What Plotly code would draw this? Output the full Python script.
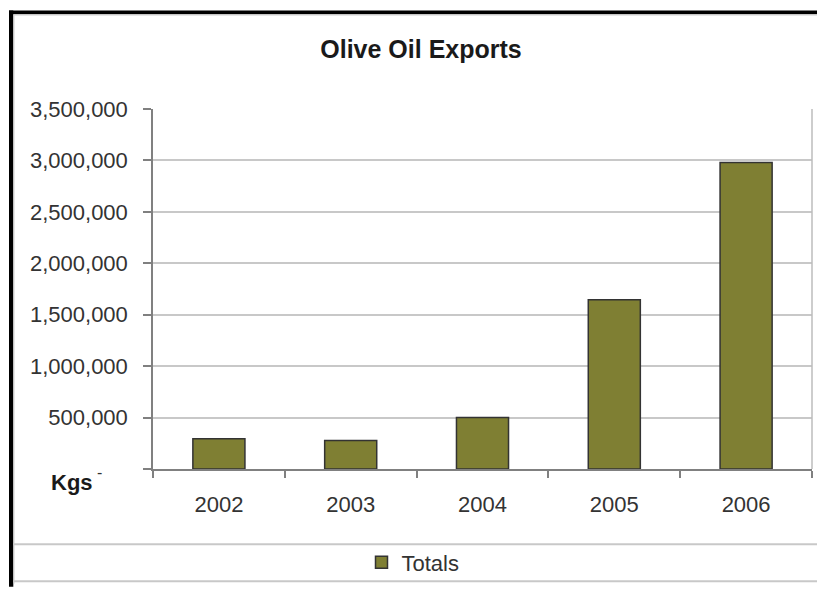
import plotly.graph_objects as go

years = ["2002", "2003", "2004", "2005", "2006"]
totals = [295000, 278000, 500000, 1645000, 2980000]
y_tickvals = [0, 500000, 1000000, 1500000, 2000000, 2500000, 3000000, 3500000]
y_ticktext = ["", "500,000", "1,000,000", "1,500,000", "2,000,000",
              "2,500,000", "3,000,000", "3,500,000"]

W, H = 817, 589
ML, MR, MT, MB = 153, 5, 109, 116
PW = W - ML - MR
PH = H - MT - MB


def px(x):
    return (x - ML) / PW


def py(y):
    return (H - MB - y) / PH


FONT = "Liberation Sans, Arial, sans-serif"

fig = go.Figure()
fig.add_trace(go.Bar(
    x=years, y=totals, name="Totals",
    marker=dict(color="#7f7f33", line=dict(color="#333333", width=1.5)),
))

shapes = [
    # black frame left and top
    dict(type="rect", xref="paper", yref="paper", x0=px(9), x1=px(13.3), y0=py(592), y1=py(9.3),
         fillcolor="black", line=dict(width=0), layer="above"),
    dict(type="rect", xref="paper", yref="paper", x0=px(9), x1=px(820), y0=py(13.3), y1=py(9.3),
         fillcolor="black", line=dict(width=0), layer="above"),
    # thin grey inner edges
    dict(type="line", xref="paper", yref="paper", x0=px(14), x1=px(14), y0=py(589), y1=py(13.5),
         line=dict(color="#d0d0d0", width=1)),
    dict(type="line", xref="paper", yref="paper", x0=px(13.5), x1=px(817), y0=py(14), y1=py(14),
         line=dict(color="#d0d0d0", width=1)),
    # legend separator lines
    dict(type="line", xref="paper", yref="paper", x0=px(13), x1=px(817), y0=py(549), y1=py(549),
         line=dict(color="#c8c8c8", width=2)),
    dict(type="line", xref="paper", yref="paper", x0=px(13), x1=px(817), y0=py(586.5), y1=py(586.5),
         line=dict(color="#c8c8c8", width=2)),
    # right border of the plot area
    dict(type="line", xref="paper", yref="paper", x0=1, x1=1, y0=0, y1=1,
         line=dict(color="#bdbdbd", width=1.5)),
]

fig.update_layout(
    width=W, height=H,
    margin=dict(l=ML, r=MR, t=MT, b=MB),
    paper_bgcolor="white", plot_bgcolor="white",
    font=dict(family=FONT, size=22, color="#333333"),
    title=dict(text="Olive Oil Exports", x=px(421), xref="paper", xanchor="center",
               y=1 - 49 / H, yref="container", yanchor="middle",
               font=dict(family=FONT, size=25, color="#1a1a1a", weight="bold")),
    bargap=0.605,
    showlegend=True,
    legend=dict(orientation="h", x=px(413), xanchor="center", y=py(567.5), yanchor="middle",
                font=dict(family=FONT, size=22, color="#333333"), bgcolor="rgba(0,0,0,0)"),
    xaxis=dict(type="category", tickson="boundaries", ticks="outside", ticklen=7,
               tickcolor="#808080", tickwidth=1.5, showline=True, linecolor="#808080",
               linewidth=1.5, showgrid=False, ticklabelstandoff=15,
               tickfont=dict(family=FONT, size=22, color="#333333")),
    yaxis=dict(range=[0, 3500000], tickvals=y_tickvals, ticktext=y_ticktext,
               ticks="outside", ticklen=8, tickcolor="#808080", tickwidth=1.5,
               showline=True, linecolor="#808080", linewidth=1.5,
               showgrid=True, gridcolor="#c8c8c8", gridwidth=1.5, zeroline=False,
               ticklabelstandoff=11,
               tickfont=dict(family=FONT, size=22, color="#333333")),
    shapes=shapes,
    annotations=[
        dict(text="<b>Kgs</b>", xref="paper", yref="paper", x=px(72), y=py(487),
             xanchor="center", yanchor="middle", showarrow=False,
             font=dict(family=FONT, size=22, color="#1a1a1a")),
        dict(text="-", xref="paper", yref="y", x=px(99), y=0, yshift=-3,
             xanchor="center", yanchor="middle", showarrow=False,
             font=dict(family=FONT, size=16, color="#333333")),
    ],
)

post = (
    "document.documentElement.style.margin='0';"
    "document.documentElement.style.overflow='hidden';"
    "document.body.style.margin='0';"
    "document.body.style.overflow='hidden';"
)

fig.write_html("out.html", config={"displayModeBar": False}, post_script=post)
